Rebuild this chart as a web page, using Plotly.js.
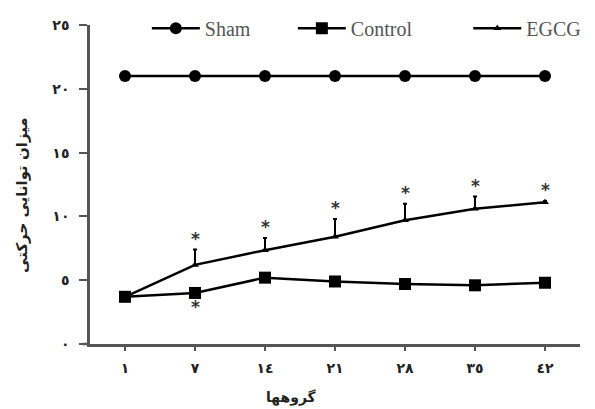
<!DOCTYPE html>
<html><head><meta charset="utf-8">
<script src="https://cdn.plot.ly/plotly-3.0.1.min.js"></script>
<style>body{margin:0;background:#fff}#c{width:595px;height:409px}</style>
</head><body><div id="c"></div>
<script>
const days = ['١','٧','١٤','٢١','٢٨','٣٥','٤٢'];
const yTickVals = [0,5,10,15,20,25];
const yTickText = ['٠','٥','١٠','١٥','٢٠','٢٥'];
const sham = [21.0,21.0,21.0,21.0,21.0,21.0,21.0];
const control = [3.7,4.0,5.2,4.9,4.7,4.6,4.8];
const egcg = [3.7,6.2,7.35,8.4,9.7,10.6,11.1];
const egcgErr = [0,1.2,0.95,1.4,1.3,0.95,0.1];
const egcgSig = [0,1,1,1,1,1,1];
const controlSig = [0,1,0,0,0,0,0];

const xi = days.map((d,i)=>i);
const traces = [
 {x:xi,y:sham,name:'Sham',mode:'lines+markers',line:{color:'#000',width:2.5},marker:{symbol:'circle',size:12,color:'#000'},legend:'legend'},
 {x:xi,y:control,name:'Control',mode:'lines+markers',line:{color:'#000',width:2.5},marker:{symbol:'square',size:12,color:'#000'},legend:'legend2'},
 {x:xi,y:egcg,name:'EGCG',mode:'lines+markers',line:{color:'#000',width:2.5},marker:{symbol:'triangle-up',size:7,color:'#000'},
  error_y:{type:'data',symmetric:false,array:egcgErr,arrayminus:egcgErr.map(()=>0),color:'#000',thickness:2,width:2},legend:'legend3'}
];
const starFont = {family:'DejaVu Sans',size:17,color:'#333',weight:'bold'};
const ann = [];
egcgSig.forEach((s,i)=>{ if(s) ann.push({x:i,y:egcg[i]+egcgErr[i],xref:'x',yref:'y',text:'*',showarrow:false,yshift:11,font:starFont}); });
controlSig.forEach((s,i)=>{ if(s) ann.push({x:i,y:control[i],xref:'x',yref:'y',text:'*',showarrow:false,yshift:-14,font:starFont}); });
ann.push({x:0.412,y:-0.167,xref:'paper',yref:'paper',text:'گروهها',showarrow:false,font:{family:'DejaVu Sans',size:14,color:'#222',weight:'bold'},xanchor:'center',yanchor:'middle'});
ann.push({x:-0.139,y:0.467,xref:'paper',yref:'paper',text:'میزان توانایی حرکتی',textangle:-90,showarrow:false,font:{family:'DejaVu Sans',size:15,color:'#222',weight:'bold'},xanchor:'center',yanchor:'middle'});

const legFont = {family:'Liberation Serif',size:20,color:'#555'};
const legBase = {y:0.99,xanchor:'left',yanchor:'middle',orientation:'h',bgcolor:'rgba(0,0,0,0)',font:legFont,itemwidth:48};
const layout = {
 width:595,height:409,
 margin:{l:90,r:15,t:25,b:65,autoexpand:false},
 paper_bgcolor:'#fff',plot_bgcolor:'#fff',
 showlegend:true,
 legend:Object.assign({x:0.116},legBase),
 legend2:Object.assign({x:0.414},legBase),
 legend3:Object.assign({x:0.772},legBase),
 xaxis:{range:[-0.5,6.5],tickvals:xi,ticktext:days,showline:true,linecolor:'#555',linewidth:2.5,ticks:'outside',ticklen:4,tickwidth:1.5,tickcolor:'#555',
   showgrid:false,zeroline:false,tickfont:{family:'DejaVu Sans',size:14,color:'#222',weight:'bold'},ticklabelstandoff:5},
 yaxis:{range:[0,25],tickvals:yTickVals,ticktext:yTickText,showline:true,linecolor:'#555',linewidth:2.5,ticks:'outside',ticklen:8,tickwidth:2,tickcolor:'#555',
   showgrid:false,zeroline:false,tickfont:{family:'DejaVu Sans',size:14,color:'#222',weight:'bold'},ticklabelstandoff:7},
 shapes:[{type:'line',xref:'paper',yref:'paper',x0:-0.015,x1:0,y0:0,y1:0,line:{color:'#555',width:2.5}}],
 annotations:ann
};
Plotly.newPlot('c',traces,layout,{displayModeBar:false});
</script></body></html>
